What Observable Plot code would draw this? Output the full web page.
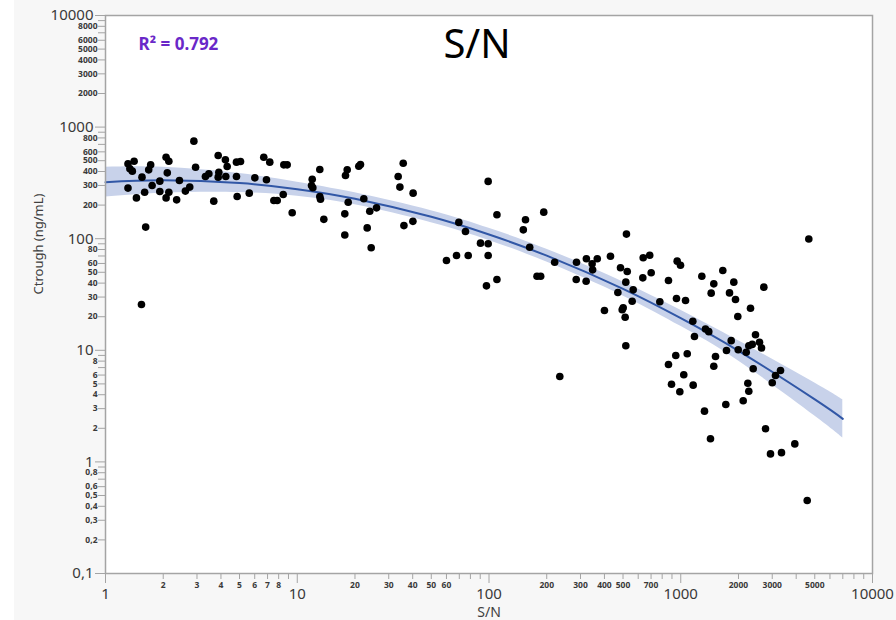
<!DOCTYPE html>
<html><head><meta charset="utf-8">
<script src="https://cdn.jsdelivr.net/npm/d3@7"></script>
<script src="https://cdn.jsdelivr.net/npm/@observablehq/plot@0.6"></script>
<style>
body{margin:0;background:#fff;}
#chart svg{display:block;}
</style></head><body><div id="chart"></div>
<script>
// Observed points: S/N (x) and Ctrough ng/mL (y)
const snValues = [1.31,1.41,1.34,1.38,1.31,1.45,1.55,1.60,1.62,1.68,1.72,1.75,1.92,1.92,2.07,2.14,2.10,2.07,2.14,2.35,2.43,2.61,2.75,2.89,2.95,3.32,3.46,3.67,3.87,3.90,3.87,4.22,4.31,4.24,4.82,5.06,4.82,4.86,5.62,6.01,6.69,7.19,6.91,7.55,7.86,8.45,8.51,8.86,9.41,11.97,11.87,12.06,13.11,13.11,13.22,13.76,17.85,18.22,17.70,17.70,18.44,20.94,21.37,22.24,23.89,23.16,24.30,25.91,33.6,34.3,35.7,40.2,36.0,40.1,60.0,67.7,69.6,75.4,77.9,90.3,99.0,99.0,99.0,97.0,110,110,151,155,163,193,178,186,220,286,285,322,321,345,367,347,234,430,400,485,521,526,517,470,565,558,501,495,513,517,637,689,634,701,778,863,958,997,950,1059,1288,1487,1441,1156,1179,1346,1400,942,1081,863,1518,1487,1037,895,1161,989,1330,1657,1891,1796,1930,2712,2311,1984,1833,1732,1994,2195,2264,2359,2454,2575,2637,2387,2238,2264,2117,1718,1429,2767,2938,3353,3934,3000,3120,3313,4566,4654,1.54];
const ctroughValues = [469,494,423,403,284,232,356,261,127,414,459,300,328,265,537,494,389,232,261,223,332,267,290,748,437,361,382,217,557,394,356,509,444,361,485,492,361,239,256,351,537,485,337,220,220,249,459,459,171,341,300,286,417,239,226,149,368,414,167,108,212,446,462,228,176,125,83,189,361,290,475,256,131,143,63.8,70.7,140,116,70.7,91.2,326,90.0,70.7,37.8,164,43.1,120,148,83.9,173,46.1,46.1,61.6,61.6,43.1,66.1,41.6,59.6,66.1,52.6,5.82,69.7,22.7,54.9,110,50.8,40.8,33.0,34.8,27.5,24.0,23.1,19.8,11.0,67.4,71.1,44.6,49.5,27.2,42.2,62.9,57.9,29.1,27.9,46.1,39.4,32.5,18.2,13.3,15.5,14.7,8.98,9.30,7.46,8.80,7.20,6.03,4.97,4.87,4.25,2.85,51.9,40.8,32.7,28.5,36.8,23.8,20.1,12.2,9.96,10.1,9.61,11.0,11.3,13.8,11.8,10.5,6.83,5.07,4.30,3.53,3.27,1.61,1.98,1.18,1.21,1.45,5.12,5.95,6.59,0.451,99.4,25.7];

// Fitted curve and confidence band
const fitSN  = [1, 2, 5, 10, 20, 50, 100, 200, 500, 1000, 2000, 5000, 7000];
const fitMid = [321, 334, 315, 278, 228, 157, 109, 70.5, 35.5, 19.4, 9.88, 3.63, 2.43];
const fitLo  = [236, 256, 259, 240, 201, 139, 96.4, 61.7, 30.7, 16.4, 8.03, 2.58, 1.64];
const fitHi  = [437, 436, 384, 321, 258, 178, 124, 80.6, 41.0, 22.9, 12.2, 5.10, 3.60];

// Tick values and labels
const xMajorTicks = [1, 10, 100, 1000, 10000];
const xMajorLabels = ["1", "10", "100", "1000", "10000"];
const xMinorTicks = [2,3,4,5,6,7,8,9, 20,30,40,50,60,70,80,90, 200,300,400,500,600,700,800,900, 2000,3000,4000,5000,6000,7000,8000,9000];
const xMinorLabels = ["2","3","4","5","6","7","8","", "20","30","40","50","60","","","", "200","300","400","500","","700","","", "2000","3000","","5000","","","",""];
const yMajorTicks = [0.1, 1, 10, 100, 1000, 10000];
const yMajorLabels = ["0,1", "1", "10", "100", "1000", "10000"];
const yMinorTicks = [0.2,0.3,0.4,0.5,0.6,0.7,0.8,0.9, 2,3,4,5,6,7,8,9, 20,30,40,50,60,70,80,90, 200,300,400,500,600,700,800,900, 2000,3000,4000,5000,6000,7000,8000,9000];
const yMinorLabels = ["0,2","0,3","0,4","0,5","0,6","","0,8","", "2","3","4","5","6","","8","", "20","30","40","50","60","","80","", "200","300","400","500","600","","800","", "2000","3000","4000","5000","6000","","8000",""];

const points = snValues.map((sn, i) => ({sn, ct: ctroughValues[i]}));
const fit = fitSN.map((sn, i) => ({sn, mid: fitMid[i], lo: fitLo[i], hi: fitHi[i]}));
const pairs = (ticks, labels) => ticks.map((v, i) => ({v, label: labels[i]})).filter(d => d.label !== "");

const axisGray = "#a4a4a4";
const textDark = "#3a3a3a";
const noText = () => "";

const chart = Plot.plot({
  width: 896, height: 620,
  marginLeft: 105, marginRight: 24, marginTop: 15, marginBottom: 47,
  style: "background: linear-gradient(to right, #ffffff 14px, #f7f7f7 14px); font-family: 'Noto Sans', sans-serif;",
  x: {type: "log", domain: [1, 10000]},
  y: {type: "log", domain: [0.1, 10000]},
  marks: [
    Plot.frame({fill: "white", stroke: null}),
    Plot.areaY(fit, {x: "sn", y1: "lo", y2: "hi", curve: "natural", fill: "#c8d2ea"}),
    Plot.line(fit, {x: "sn", y: "mid", curve: "natural", stroke: "#3157a6", strokeWidth: 2}),
    Plot.dot(points, {x: "sn", y: "ct", r: 3.8, fill: "black", stroke: null}),
    // tick marks
    Plot.axisX(xMinorTicks, {anchor: "bottom", tickSize: 6, tickFormat: noText, stroke: axisGray, label: null}),
    Plot.axisX(xMajorTicks, {anchor: "bottom", tickSize: 10, tickFormat: noText, stroke: axisGray, label: null}),
    Plot.axisY(yMinorTicks, {anchor: "left", tickSize: 7, tickFormat: noText, stroke: axisGray, label: null}),
    Plot.axisY(yMajorTicks, {anchor: "left", tickSize: 10, tickFormat: noText, stroke: axisGray, label: null}),
    // tick labels
    Plot.text(pairs(xMinorTicks, xMinorLabels), {x: "v", text: "label", frameAnchor: "bottom", dy: 12, fontSize: 8.5, fontWeight: "bold", fill: textDark, lineAnchor: "middle"}),
    Plot.text(pairs(xMajorTicks, xMajorLabels), {x: "v", text: "label", frameAnchor: "bottom", dy: 21, fontSize: 15, fill: textDark, lineAnchor: "middle"}),
    Plot.text(pairs(yMinorTicks, yMinorLabels), {y: "v", text: "label", frameAnchor: "left", dx: -8, fontSize: 8.5, fontWeight: "bold", fill: textDark, textAnchor: "end", lineAnchor: "middle"}),
    Plot.text(pairs(yMajorTicks, yMajorLabels), {y: "v", text: "label", frameAnchor: "left", dx: -12, fontSize: 15, fill: textDark, textAnchor: "end", lineAnchor: "middle"}),
    Plot.frame({stroke: axisGray, strokeWidth: 1.5}),
    Plot.text(["S/N"], {text: d => d, frameAnchor: "top", dx: -12, dy: 30, fontSize: 40, fill: "black", lineAnchor: "middle"}),
    Plot.text(["R² = 0.792"], {text: d => d, frameAnchor: "top-left", dx: 33, dy: 29, fontSize: 17, fontWeight: "bold", fill: "#6a28c8", textAnchor: "start", lineAnchor: "middle"}),
    Plot.text(["Ctrough (ng/mL)"], {text: d => d, frameAnchor: "left", dx: -67, rotate: -90, fontSize: 13, fill: "#404040", lineAnchor: "middle"}),
    Plot.text(["S/N"], {text: d => d, frameAnchor: "bottom", dy: 39, fontSize: 14, fill: "#404040", lineAnchor: "middle"})
  ]
});
document.getElementById("chart").append(chart);
</script>
</body></html>
